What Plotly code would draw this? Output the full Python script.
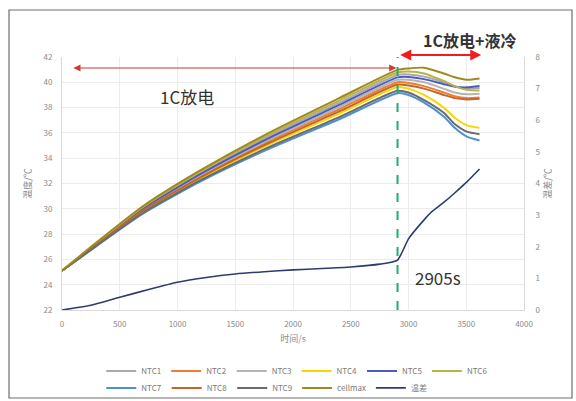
import plotly.graph_objects as go

# Time axis (s)
time_s = [0, 300, 700, 1200, 1800, 2400, 2905, 3000, 3135, 3305, 3400, 3505, 3615]

# Cell temperatures (°C): 1C discharge, then liquid cooling from 2905 s
ntc1 = [25.1, 27.28, 30.07, 32.85, 35.76, 38.38, 40.58, 40.62, 40.45, 40.0, 39.7, 39.5, 39.55]
ntc2 = [25.1, 27.19, 29.89, 32.58, 35.37, 37.87, 40.01, 39.95, 39.7, 39.2, 38.9, 38.75, 38.8]
ntc3 = [25.1, 27.22, 29.95, 32.67, 35.50, 38.04, 40.20, 40.2, 40.0, 39.5, 39.2, 39.05, 39.1]
ntc4 = [25.1, 27.13, 29.77, 32.40, 35.11, 37.53, 39.63, 39.5, 39.0, 38.0, 37.2, 36.6, 36.4]
ntc5 = [25.1, 27.25, 30.01, 32.76, 35.63, 38.21, 40.39, 40.42, 40.25, 39.85, 39.65, 39.6, 39.7]
ntc6 = [25.1, 27.31, 30.13, 32.94, 35.89, 38.55, 40.77, 40.85, 40.7, 40.1, 39.7, 39.4, 39.35]
ntc7 = [25.1, 27.06, 29.61, 32.17, 34.78, 37.08, 39.14, 39.0, 38.4, 37.3, 36.4, 35.7, 35.4]
ntc8 = [25.1, 27.16, 29.83, 32.49, 35.24, 37.70, 39.82, 39.75, 39.5, 39.0, 38.75, 38.65, 38.7]
ntc9 = [25.1, 27.09, 29.67, 32.26, 34.91, 37.25, 39.33, 39.2, 38.6, 37.6, 36.7, 36.1, 35.9]
cell_max = [25.1, 27.35, 30.20, 33.05, 36.05, 38.75, 40.98, 41.1, 41.15, 40.7, 40.4, 40.2, 40.3]

# Temperature difference (°C), right axis
diff_time = [0, 250, 500, 750, 1000, 1250, 1500, 1750, 2000, 2250, 2500, 2750, 2905,
             3000, 3135, 3200, 3305, 3400, 3505, 3615]
temp_diff = [0.0, 0.15, 0.4, 0.65, 0.88, 1.03, 1.14, 1.21, 1.27, 1.31, 1.36, 1.45, 1.58,
             2.25, 2.85, 3.1, 3.4, 3.7, 4.05, 4.46]

switch_time = 2905
cooling_end = 3630

series = [
    ("NTC1", ntc1, "#a9a9a9", "legend"),
    ("NTC2", ntc2, "#ed7d31", "legend"),
    ("NTC3", ntc3, "#b4b4b4", "legend"),
    ("NTC4", ntc4, "#f5d800", "legend"),
    ("NTC5", ntc5, "#4a5cc4", "legend"),
    ("NTC6", ntc6, "#b9b24a", "legend"),
    ("NTC7", ntc7, "#4f8fd3", "legend2"),
    ("NTC8", ntc8, "#c4652a", "legend2"),
    ("NTC9", ntc9, "#6b6b6b", "legend2"),
    ("cellmax", cell_max, "#a08a1c", "legend2"),
]

fig = go.Figure()
for name, vals, color, lg in series:
    fig.add_trace(go.Scatter(
        x=time_s, y=vals, name=name, mode="lines",
        line=dict(color=color, width=2, shape="spline", smoothing=0.6),
        legend=lg,
    ))

fig.add_trace(go.Scatter(
    x=diff_time, y=temp_diff, name="温差", mode="lines", yaxis="y2",
    line=dict(color="#2f3b70", width=1.6, shape="spline", smoothing=0.5),
    legend="legend2",
))

font_cjk = "Noto Sans CJK SC"
tick_font = dict(family=font_cjk, size=8, color="#8a8a8a")
title_font = dict(family=font_cjk, size=9, color="#8a8a8a")

X_MAX = 4000
plot_w = 576 - 62 - 52

fig.update_layout(
    width=576, height=401,
    margin=dict(l=62, r=52, t=57, b=91, autoexpand=False),
    paper_bgcolor="white", plot_bgcolor="white",
    font=dict(family=font_cjk),
    xaxis=dict(
        range=[0, X_MAX], tickvals=list(range(0, X_MAX + 1, 500)),
        showgrid=True, gridcolor="#ececec", gridwidth=1,
        showline=True, linecolor="#d9d9d9", linewidth=1,
        zeroline=False, ticks="", tickfont=tick_font, ticklabelstandoff=6,
        title=dict(text="时间/s", font=title_font, standoff=8),
    ),
    yaxis=dict(
        range=[22, 42], dtick=2,
        showgrid=True, gridcolor="#ececec", gridwidth=1,
        showline=True, linecolor="#d9d9d9", linewidth=1,
        zeroline=False, ticks="", tickfont=tick_font, ticklabelstandoff=7,
        title=dict(text="温度/℃", font=title_font, standoff=10),
    ),
    yaxis2=dict(
        range=[0, 8], dtick=1, overlaying="y", side="right",
        showgrid=False, showline=True, linecolor="#d9d9d9", linewidth=1,
        zeroline=False, ticks="", tickfont=tick_font, ticklabelstandoff=9,
        title=dict(text="温差/℃", font=title_font, standoff=4),
    ),
    legend=dict(
        orientation="h", x=0.085, y=-0.241, xanchor="left", yanchor="middle",
        font=dict(family=font_cjk, size=8, color="#7a7a7a"),
        bgcolor="rgba(0,0,0,0)", itemwidth=30, tracegroupgap=0,
    ),
    legend2=dict(
        orientation="h", x=0.085, y=-0.308, xanchor="left", yanchor="middle",
        font=dict(family=font_cjk, size=8, color="#7a7a7a"),
        bgcolor="rgba(0,0,0,0)", itemwidth=30, tracegroupgap=0,
    ),
    showlegend=True,
)

# Start of liquid cooling
fig.add_shape(type="line", xref="x", yref="y",
              x0=switch_time, x1=switch_time, y0=22, y1=42.15,
              line=dict(color="#1fae6e", width=2, dash="dash"))

# Outer frame
fig.add_shape(type="rect", xref="paper", yref="paper",
              x0=-0.1147, x1=1.1039, y0=-0.3478, y1=1.1858,
              line=dict(color="#6e6e6e", width=1.2), fillcolor="rgba(0,0,0,0)")

# Phase arrows: discharge span, then discharge + cooling span (above the plot)
fig.add_annotation(x=switch_time - 10, y=41.13, ax=85, ay=41.13,
                   xref="x", yref="y", axref="x", ayref="y",
                   text="", showarrow=True, arrowhead=2, startarrowhead=2,
                   arrowside="end+start", arrowsize=1.2, startarrowsize=1.2,
                   arrowwidth=1.2, arrowcolor="#cc3b35")
fig.add_annotation(x=cooling_end / X_MAX, y=1.008,
                   ax=-(cooling_end - switch_time - 10) / X_MAX * plot_w, ay=0,
                   xref="paper", yref="paper", axref="pixel", ayref="pixel",
                   text="", showarrow=True, arrowhead=2, startarrowhead=2,
                   arrowside="end+start", arrowsize=1.1, startarrowsize=1.1,
                   arrowwidth=2, arrowcolor="#f21c1c")

label_font = dict(family=font_cjk, size=17, color="#333333")
fig.add_annotation(x=0.2706, y=0.842, xref="paper", yref="paper",
                   xanchor="center", yanchor="middle",
                   text="1C放电", showarrow=False, font=label_font)
fig.add_annotation(x=0.883, y=1.067, xref="paper", yref="paper",
                   xanchor="center", yanchor="middle",
                   text="<b>1C放电+液冷</b>", showarrow=False,
                   font=dict(family=font_cjk, size=16, color="#333333"))
fig.add_annotation(x=0.76, y=0.1265, xref="paper", yref="paper",
                   xanchor="left", yanchor="middle",
                   text="2905s", showarrow=False, font=label_font)

fig.write_html("out.html")
